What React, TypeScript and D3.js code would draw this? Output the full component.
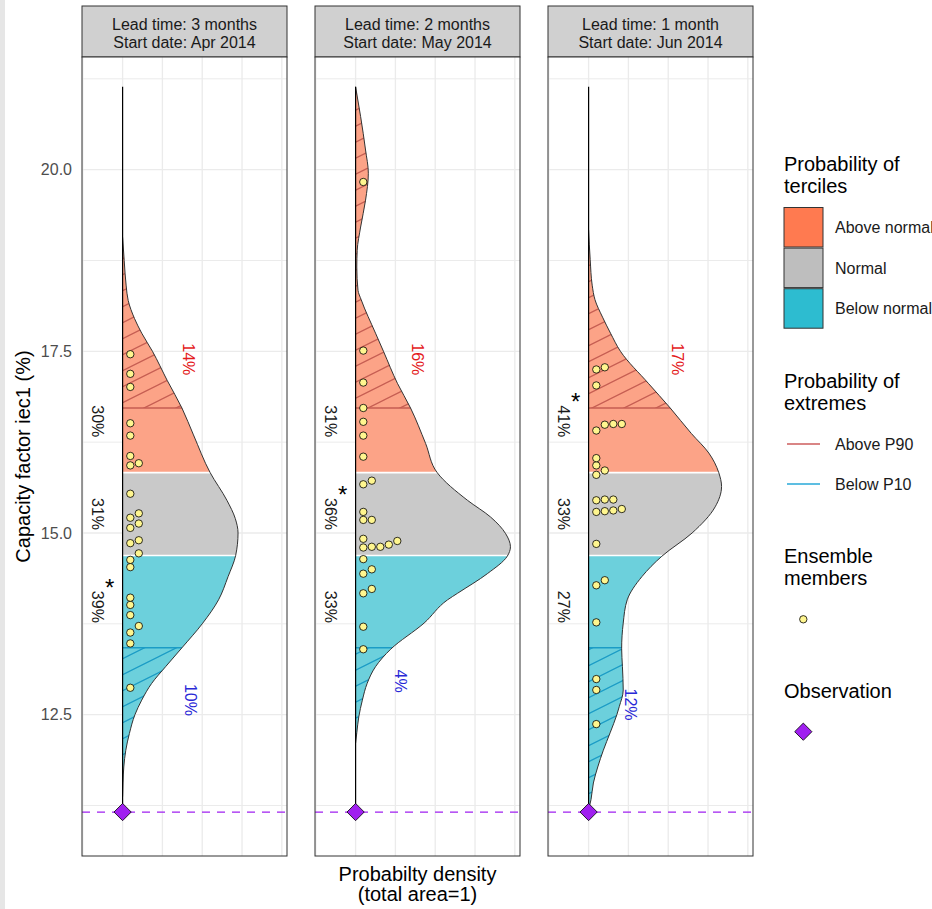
import React from "react";
import * as d3 from "d3";

// ---------- data ----------
const panelLeadTimes = ["Lead time: 3 months", "Lead time: 2 months", "Lead time: 1 month"];
const panelStartDates = ["Start date: Apr 2014", "Start date: May 2014", "Start date: Jun 2014"];

const upperTercile = 15.83;
const lowerTercile = 14.69;
const p90 = 16.72;
const p10 = 13.42;
const observation = 11.16;

const probAbove = [30, 31, 41];
const probNormal = [31, 36, 33];
const probBelow = [39, 33, 27];
const probAboveP90 = [14, 16, 17];
const probBelowP10 = [10, 4, 12];

// [capacity factor, probability density]
const density3m: [number, number][] = [
  [19.07, 0], [18.75, 0.004], [18.4, 0.009], [18.2, 0.014], [17.95, 0.03], [17.75, 0.048],
  [17.5, 0.075], [17.1, 0.112], [16.72, 0.149], [16.35, 0.178], [15.83, 0.22], [15.45, 0.262],
  [15.2, 0.283], [15.0, 0.29], [14.69, 0.284], [14.4, 0.265], [14.08, 0.241], [13.75, 0.2],
  [13.42, 0.149], [13.16, 0.108], [12.93, 0.073], [12.7, 0.048], [12.5, 0.031], [12.24, 0.017],
  [12.01, 0.008], [11.78, 0.003], [11.56, 0.001], [11.37, 0],
];
const density2m: [number, number][] = [
  [21.14, 0], [20.73, 0.0126], [20.27, 0.025], [19.95, 0.032], [19.58, 0.025], [19.21, 0.0126],
  [18.89, 0.004], [18.66, 0.003], [18.34, 0.006], [18.21, 0.014], [17.75, 0.05], [17.5, 0.07],
  [17.06, 0.105], [16.72, 0.138], [16.23, 0.176], [15.83, 0.205], [15.45, 0.281], [15.22, 0.339],
  [14.99, 0.377], [14.81, 0.389], [14.68, 0.381], [14.44, 0.331], [14.17, 0.256], [14.08, 0.231],
  [13.76, 0.172], [13.4, 0.088], [13.16, 0.05], [12.93, 0.029], [12.7, 0.017], [12.47, 0.008],
  [12.25, 0.003], [12.11, 0],
];
const density1m: [number, number][] = [
  [19.17, 0], [18.76, 0.004], [18.41, 0.009], [18.21, 0.016], [17.97, 0.035], [17.75, 0.055],
  [17.5, 0.08], [17.06, 0.15], [16.72, 0.205], [16.37, 0.258], [16.1, 0.302], [15.83, 0.327],
  [15.64, 0.334], [15.36, 0.318], [15.0, 0.26], [14.68, 0.184], [14.4, 0.134], [14.08, 0.097],
  [13.76, 0.087], [13.41, 0.083], [13.16, 0.085], [12.84, 0.087], [12.61, 0.077], [12.5, 0.071],
  [12.25, 0.054], [12.01, 0.037], [11.78, 0.023], [11.56, 0.012], [11.33, 0.006], [11.19, 0],
];

const members3m = [
  17.46, 17.19, 17.01, 16.51, 16.34, 16.06, 15.93, 15.96, 15.54, 15.21, 15.27, 15.07, 15.13,
  14.86, 14.9, 14.63, 14.72, 14.53, 14.11, 14.01, 13.87, 13.72, 13.63, 13.48, 12.87,
];
const members2m = [
  19.83, 17.51, 17.07, 16.72, 16.53, 16.34, 16.05, 15.67, 15.72, 15.29, 15.18, 15.18, 14.92,
  14.89, 14.8, 14.81, 14.84, 14.81, 14.64, 14.44, 14.5, 14.17, 14.23, 13.71, 13.4,
];
const members1m = [
  17.25, 17.28, 17.03, 16.41, 16.5, 16.49, 16.5, 16.03, 15.93, 15.86, 15.8, 15.45, 15.46, 15.46,
  15.29, 15.33, 15.3, 15.31, 14.85, 14.28, 14.35, 13.77, 12.99, 12.84, 12.37,
];

const yMajorTicks = [12.5, 15.0, 17.5, 20.0];
const yMinorTicks = [11.25, 13.75, 16.25, 18.75, 21.25];
const xGridBreaks = [-0.1, 0, 0.1, 0.2, 0.3, 0.4];

const densities = [density3m, density2m, density1m];
const members = [members3m, members2m, members1m];

// ---------- style ----------
const FONT = "Liberation Sans, Arial, Helvetica, sans-serif";
const aboveFill = "#FCA387";
const normalFill = "#C9C9C9";
const belowFill = "#6CD0DC";
const aboveKey = "#FF7A50";
const normalKey = "#BEBEBE";
const belowKey = "#2DBCD0";
const hatchRed = "#C65D52";
const hatchBlue = "#1B9CC6";
const legendRed = "#CD5C5C";
const legendBlue = "#27A9D9";
const pctRed = "#E41A1C";
const pctBlue = "#2929D6";
const obsPurple = "#A020F0";
const dotFill = "#FFF68F";

const W = 932;
const H = 909;
const panelTop = 57;
const panelBottom = 856;
const stripTop = 6;
const panelW = 205;
const panelGap = 233;
const firstPanelLeft = 82;

const y = d3.scaleLinear().domain([10.555, 21.55]).range([panelBottom, panelTop]);

const diamondPath = d3.symbol(d3.symbolDiamond2, 190)() || "";

function densityAt(arr: [number, number][], v: number) {
  for (let i = 0; i < arr.length - 1; i++) {
    const a = arr[i], b = arr[i + 1];
    if ((v <= a[0] && v >= b[0]) || (v >= a[0] && v <= b[0])) {
      const t = (v - a[0]) / (b[0] - a[0]);
      return a[1] + t * (b[1] - a[1]);
    }
  }
  return 0;
}

function stackMembers(vals: number[]) {
  const sorted = [...vals].sort((a, b) => a - b);
  const cols: number[][] = [];
  return sorted.map((v) => {
    const py = y(v);
    let c = 0;
    while (cols[c] && cols[c].some((q) => Math.abs(q - py) < 7)) c++;
    if (!cols[c]) cols[c] = [];
    cols[c].push(py);
    return { v, col: c };
  });
}

function Panel({ i }: { i: number }) {
  const left = firstPanelLeft + i * panelGap;
  const right = left + panelW;
  const x = d3.scaleLinear().domain([-0.102, 0.413]).range([left, right]);
  const dens = densities[i];
  const area = d3
    .area<[number, number]>()
    .y((d) => y(d[0]))
    .x0(x(0))
    .x1((d) => x(d[1]))
    .curve(d3.curveMonotoneY);
  const edge = d3
    .line<[number, number]>()
    .x((d) => x(d[1]))
    .y((d) => y(d[0]))
    .curve(d3.curveMonotoneY);
  const clipId = `area-clip-${i}`;
  const panelClip = `panel-clip-${i}`;
  const base = x(0);
  const lineTop = d3.max(densities.flat(), (d) => d[0]) as number;

  const stacked = stackMembers(members[i]);

  const labelX = base - 25;
  const aboveLabelV = upperTercile + (upperTercile - lowerTercile) * 0.62;
  const normalLabelV = (upperTercile + lowerTercile) / 2;
  const belowLabelV = lowerTercile - (upperTercile - lowerTercile) * 0.62;
  const probs = [probAbove[i], probNormal[i], probBelow[i]];
  const labelVs = [aboveLabelV, normalLabelV, belowLabelV];
  const maxIdx = probs.indexOf(Math.max(...probs));

  const tailEnd = d3.min(dens, (d) => d[0]) as number;
  const p90LabelX = x(densityAt(dens, p90)) + 7;
  const p90LabelY = y(p90 + 0.67);
  const p10LabelX = x(densityAt(dens, p10)) + 8.5;
  const p10LabelY = y(p10 - 0.35 * (p10 - tailEnd));

  const cx = (left + right) / 2;

  return (
    <g>
      {/* strip */}
      <rect x={left} y={stripTop} width={panelW} height={panelTop - stripTop} fill="#D0D0D0" stroke="#333" strokeWidth={1} />
      <text x={cx} y={30} textAnchor="middle" fontSize={16} fill="#1A1A1A" fontFamily={FONT}>
        {panelLeadTimes[i]}
      </text>
      <text x={cx} y={48} textAnchor="middle" fontSize={16} fill="#1A1A1A" fontFamily={FONT}>
        {panelStartDates[i]}
      </text>

      <defs>
        <clipPath id={clipId}>
          <path d={area(dens) || ""} />
        </clipPath>
        <clipPath id={panelClip}>
          <rect x={left} y={panelTop} width={panelW} height={panelBottom - panelTop} />
        </clipPath>
      </defs>

      {/* panel background + grid */}
      <rect x={left} y={panelTop} width={panelW} height={panelBottom - panelTop} fill="#fff" />
      <g clipPath={`url(#${panelClip})`}>
        {yMinorTicks.map((t) => (
          <line key={"mn" + t} x1={left} x2={right} y1={y(t)} y2={y(t)} stroke="#EBEBEB" strokeWidth={1} />
        ))}
        {yMajorTicks.map((t) => (
          <line key={"mj" + t} x1={left} x2={right} y1={y(t)} y2={y(t)} stroke="#EBEBEB" strokeWidth={1.3} />
        ))}
        {xGridBreaks.map((t) => (
          <line key={"xg" + t} x1={x(t)} x2={x(t)} y1={panelTop} y2={panelBottom} stroke="#EBEBEB" strokeWidth={1.3} />
        ))}
      </g>

      {/* tercile fills */}
      <g clipPath={`url(#${clipId})`}>
        <rect x={left} y={panelTop} width={panelW} height={y(upperTercile) - panelTop} fill={aboveFill} />
        <rect x={left} y={y(upperTercile)} width={panelW} height={y(lowerTercile) - y(upperTercile)} fill={normalFill} />
        <rect x={left} y={y(lowerTercile)} width={panelW} height={panelBottom - y(lowerTercile)} fill={belowFill} />
        <rect x={left} y={panelTop} width={panelW} height={y(p90) - panelTop} fill="url(#hatch-red)" />
        <rect x={left} y={y(p10)} width={panelW} height={panelBottom - y(p10)} fill="url(#hatch-blue)" />
        <line x1={left} x2={right} y1={y(p90)} y2={y(p90)} stroke={hatchRed} strokeWidth={1.6} />
        <line x1={left} x2={right} y1={y(p10)} y2={y(p10)} stroke={hatchBlue} strokeWidth={1.6} />
        <line x1={left} x2={right} y1={y(upperTercile)} y2={y(upperTercile)} stroke="#fff" strokeWidth={1.6} />
        <line x1={left} x2={right} y1={y(lowerTercile)} y2={y(lowerTercile)} stroke="#fff" strokeWidth={1.6} />
      </g>
      <path d={edge(dens) || ""} fill="none" stroke="#333" strokeWidth={1} />

      {/* baseline */}
      <line x1={base} x2={base} y1={y(lineTop)} y2={y(observation)} stroke="#000" strokeWidth={1.2} />

      {/* observation line */}
      <line x1={left} x2={right} y1={y(observation)} y2={y(observation)} stroke={obsPurple} strokeWidth={1.2} strokeDasharray="8 7" />

      {/* members */}
      {stacked.map((m, k) => (
        <circle key={k} cx={base + 7.7 + m.col * 8.5} cy={y(m.v)} r={3.7} fill={dotFill} stroke="#000" strokeWidth={0.8} />
      ))}

      {/* observation marker */}
      <path
        d={diamondPath}
        transform={`translate(${base},${y(observation)})`}
        fill={obsPurple}
        stroke="#000"
        strokeWidth={0.8}
      />

      {/* tercile labels */}
      {probs.map((p, k) => (
        <text
          key={"pl" + k}
          transform={`translate(${labelX},${y(labelVs[k])}) rotate(90)`}
          textAnchor="middle"
          dominantBaseline="central"
          fontSize={16}
          fill="#1A1A1A"
          fontFamily={FONT}
        >
          {p}%
        </text>
      ))}
      <text
        x={labelX + 12}
        y={y(labelVs[maxIdx]) - 11}
        textAnchor="middle"
        fontSize={24}
        fill="#000"
        fontFamily={FONT}
      >
        *
      </text>

      {/* extreme labels */}
      <text
        transform={`translate(${p90LabelX},${p90LabelY}) rotate(90)`}
        textAnchor="middle"
        dominantBaseline="central"
        fontSize={16}
        fill={pctRed}
        fontFamily={FONT}
      >
        {probAboveP90[i]}%
      </text>
      <text
        transform={`translate(${p10LabelX},${p10LabelY}) rotate(90)`}
        textAnchor="middle"
        dominantBaseline="central"
        fontSize={16}
        fill={pctBlue}
        fontFamily={FONT}
      >
        {probBelowP10[i]}%
      </text>

      {/* border */}
      <rect x={left} y={panelTop} width={panelW} height={panelBottom - panelTop} fill="none" stroke="#333" strokeWidth={1} />
    </g>
  );
}

function Legend() {
  const lx = 784;
  const tx = 835;
  const keys = [
    { label: "Above normal", fill: aboveKey },
    { label: "Normal", fill: normalKey },
    { label: "Below normal", fill: belowKey },
  ];
  const lines = [
    { label: "Above P90", color: legendRed, y: 444 },
    { label: "Below P10", color: legendBlue, y: 484 },
  ];
  return (
    <g fontFamily={FONT}>
      <text x={lx} y={171} fontSize={20} fill="#000">Probability of</text>
      <text x={lx} y={193} fontSize={20} fill="#000">terciles</text>
      {keys.map((k, j) => (
        <g key={k.label}>
          <rect x={lx} y={207.5 + j * 40.6} width={39} height={39.5} fill={k.fill} stroke="#333" strokeWidth={1} />
          <text x={tx} y={207.5 + j * 40.6 + 20 + 5.7} fontSize={16} fill="#1A1A1A">{k.label}</text>
        </g>
      ))}
      <text x={lx} y={388} fontSize={20} fill="#000">Probability of</text>
      <text x={lx} y={410} fontSize={20} fill="#000">extremes</text>
      {lines.map((l) => (
        <g key={l.label}>
          <line x1={787} x2={820} y1={l.y} y2={l.y} stroke={l.color} strokeWidth={1.3} />
          <text x={tx} y={l.y + 5.7} fontSize={16} fill="#1A1A1A">{l.label}</text>
        </g>
      ))}
      <text x={lx} y={563} fontSize={20} fill="#000">Ensemble</text>
      <text x={lx} y={585} fontSize={20} fill="#000">members</text>
      <circle cx={803.3} cy={619.3} r={3.7} fill={dotFill} stroke="#000" strokeWidth={0.8} />
      <text x={lx} y={698} fontSize={20} fill="#000">Observation</text>
      <path
        d={diamondPath}
        transform={`translate(803.3,731.7)`}
        fill={obsPurple}
        stroke="#000"
        strokeWidth={0.8}
      />
    </g>
  );
}

export default function App() {
  return (
    <svg
      width={W}
      height={H}
      viewBox={`0 0 ${W} ${H}`}
      style={{ position: "absolute", left: 0, top: 0, background: "#fff" }}
    >
      <defs>
        <pattern id="hatch-red" patternUnits="userSpaceOnUse" width={32} height={16}>
          <line x1={-2} y1={17} x2={34} y2={-1} stroke={hatchRed} strokeWidth={1.3} />
          <line x1={-2} y1={1} x2={34} y2={-17} stroke={hatchRed} strokeWidth={1.3} />
          <line x1={-2} y1={33} x2={34} y2={15} stroke={hatchRed} strokeWidth={1.3} />
        </pattern>
        <pattern id="hatch-blue" patternUnits="userSpaceOnUse" width={32} height={16}>
          <line x1={-2} y1={17} x2={34} y2={-1} stroke={hatchBlue} strokeWidth={1.3} />
          <line x1={-2} y1={1} x2={34} y2={-17} stroke={hatchBlue} strokeWidth={1.3} />
          <line x1={-2} y1={33} x2={34} y2={15} stroke={hatchBlue} strokeWidth={1.3} />
        </pattern>
      </defs>
      <rect x={0} y={0} width={W} height={H} fill="#fff" />
      <rect x={0} y={0} width={5} height={H} fill="#E6E6E6" />

      {/* y axis */}
      {yMajorTicks.map((t) => (
        <text key={t} x={72} y={y(t) + 5.8} textAnchor="end" fontSize={16} fill="#4D4D4D" fontFamily={FONT}>
          {t.toFixed(1)}
        </text>
      ))}
      <text
        transform={`translate(30,${(panelTop + panelBottom) / 2}) rotate(-90)`}
        textAnchor="middle"
        fontSize={20}
        fill="#000"
        fontFamily={FONT}
      >
        Capacity factor iec1 (%)
      </text>

      {[0, 1, 2].map((i) => (
        <Panel key={i} i={i} />
      ))}

      {/* x axis title */}
      <text x={firstPanelLeft + panelGap + panelW / 2} y={881} textAnchor="middle" fontSize={20} fill="#000" fontFamily={FONT}>
        Probabilty density
      </text>
      <text x={firstPanelLeft + panelGap + panelW / 2} y={901} textAnchor="middle" fontSize={20} fill="#000" fontFamily={FONT}>
        (total area=1)
      </text>

      <Legend />
    </svg>
  );
}
